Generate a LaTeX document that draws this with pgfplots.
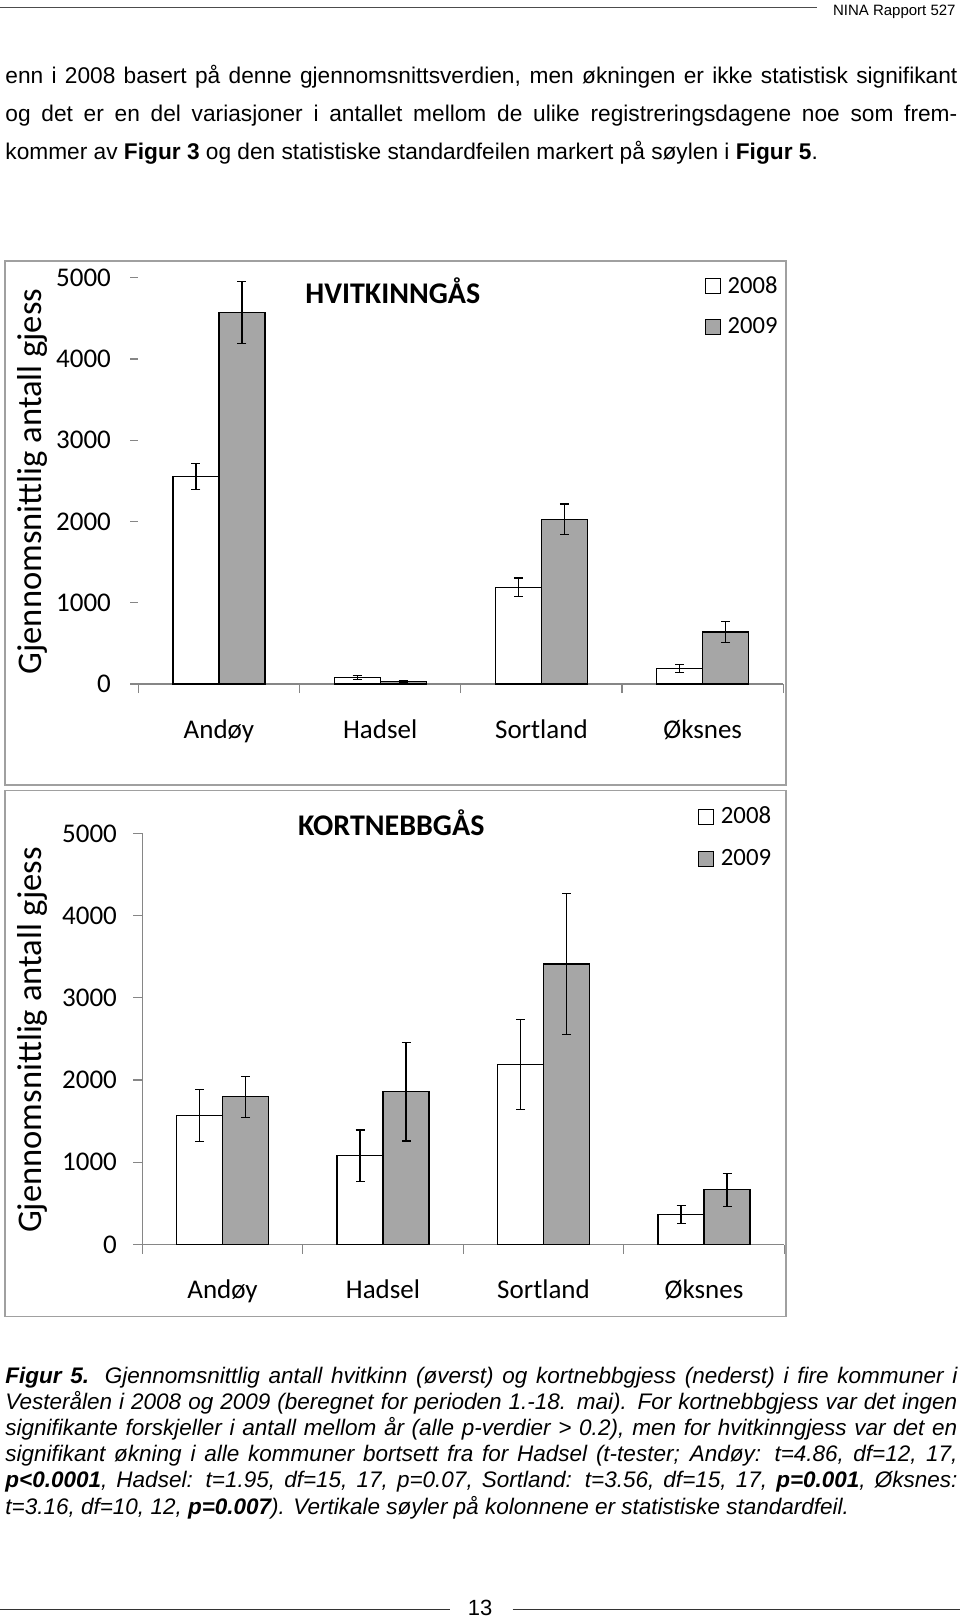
\documentclass[border=0pt]{standalone}
\usepackage{fontspec}
\setmainfont{Liberation Sans}
\newfontfamily\carlito{Carlito}
\usepackage{pgfplots}
\pgfplotsset{compat=1.18}
\definecolor{axgray}{RGB}{134,134,134}
\definecolor{framegray}{RGB}{160,160,160}
\definecolor{bargray}{RGB}{166,166,166}

\pgfplotsset{
  goose/.style={
    scale only axis,
    clip=false,
    xmin=0.5, xmax=4.5, ymin=0, ymax=5000,
    ybar=0pt, bar width=23pt,
    axis x line*=bottom, axis y line*=left,
    axis line style={axgray, line width=0.6pt},
    xtick={1,2,3,4},
    xticklabels={Andøy,Hadsel,Sortland,Øksnes},
    minor xtick={0.5,1.5,2.5,3.5,4.5},
    xtick align=outside, ytick align=outside,
    major x tick style={draw=none},
    minor tick length=4.5pt,
    tick style={axgray, line width=0.6pt},
    ytick={0,1000,2000,3000,4000,5000},
    yticklabels={0,1000,2000,3000,4000,5000},
    tick label style={font=\carlito\fontsize{13.5}{16}\selectfont},
    legend image code/.code={\draw[##1, line width=0.5pt] (0pt,-3.75pt) rectangle (7.5pt,3.75pt);},
    legend cell align=left,
    every axis plot/.append style={draw=black, line width=0.6pt},
  },
  ebar/.style={error bars/.cd, y dir=both, y explicit,
    error bar style={black, line width=0.6pt},
    error mark options={black, rotate=90, mark size=2.25pt, line width=0.6pt}},
}

\begin{document}
\begin{tikzpicture}
\path[use as bounding box] (0pt,0pt) rectangle (480pt,-809pt);

% header
\draw[line width=0.7pt, black!70] (0pt,-3.65pt) -- (408.3pt,-3.65pt);
\node[anchor=base east, inner sep=0pt] at (478pt,-7.5pt) {\fontsize{7.5}{9}\selectfont NINA Rapport 527};

% body text
\begin{scope}[every node/.style={anchor=base west, inner sep=0pt}, font=\fontsize{11.35}{13}\selectfont]
\node at (2.5pt,-41.65pt) {\makebox[476pt][s]{enn i 2008 basert på denne gjennomsnittsverdien, men økningen er ikke statistisk signifikant}};
\node at (2.5pt,-60.85pt) {\makebox[476pt][s]{og det er en del variasjoner i antallet mellom de ulike registreringsdagene noe som frem-}};
\node at (2.5pt,-79.65pt) {kommer av \textbf{Figur 3} og den statistiske standardfeilen markert på søylen i \textbf{Figur 5}.};
\end{scope}

% frames
\draw[framegray, line width=0.6pt] (2.5pt,-130.5pt) rectangle (393pt,-392.5pt);
\draw[framegray, line width=0.6pt] (2.5pt,-395.15pt) rectangle (393pt,-658.25pt);

% top chart
\begin{axis}[goose,
  at={(69.15pt,-342pt)}, anchor=south west,
  width=322.5pt, height=203.15pt,
  major tick length=4pt,
  y axis line style={draw=none},
  xticklabel style={anchor=base, yshift=-23pt},
  yticklabel style={inner sep=0pt, xshift=-9.5pt},
  title={HVITKINNGÅS},
  title style={at={(axis description cs:0.2584,0.937)}, anchor=base west, inner sep=0pt, yshift=-6.3pt,
    font=\carlito\bfseries\fontsize{15}{18}\selectfont},
  ylabel={Gjennomsnittlig antall gjess},
  ylabel style={at={(axis description cs:-0.1498,0.4984)}, anchor=base, inner sep=0pt,
    font=\carlito\fontsize{17.3}{20}\selectfont},
  legend style={at={(axis description cs:0.8786,1.0037)}, anchor=north west,
    draw=none, fill=none, inner sep=0pt, outer sep=0pt,
    font=\carlito\fontsize{12.3}{14}\selectfont, row sep=10.85pt,
    nodes={inner sep=0pt}, /tikz/every odd column/.append style={column sep=3.3pt}},
]
\addplot[fill=white, ebar] coordinates {
  (1,2555) +- (0,160)
  (2,80)   +- (0,25)
  (3,1190) +- (0,115)
  (4,193)  +- (0,47)
};
\addplot[fill=bargray, ebar] coordinates {
  (1,4570) +- (0,380)
  (2,28)   +- (0,10)
  (3,2025) +- (0,190)
  (4,640)  +- (0,130)
};
\legend{2008,2009}
\end{axis}

% bottom chart
\begin{axis}[goose,
  at={(71.15pt,-622.25pt)}, anchor=south west,
  width=321pt, height=205.55pt,
  major tick length=4.5pt,
  xticklabel style={anchor=base, yshift=-22.35pt},
  yticklabel style={inner sep=0pt, xshift=-8pt},
  title={KORTNEBBGÅS},
  title style={at={(axis description cs:0.242,0.9959)}, anchor=base west, inner sep=0pt, yshift=-6.3pt,
    font=\carlito\bfseries\fontsize{15}{18}\selectfont},
  ylabel={Gjennomsnittlig antall gjess},
  ylabel style={at={(axis description cs:-0.1567,0.4974)}, anchor=base, inner sep=0pt,
    font=\carlito\fontsize{17.3}{20}\selectfont},
  legend style={at={(axis description cs:0.866,1.0642)}, anchor=north west,
    draw=none, fill=none, inner sep=0pt, outer sep=0pt,
    font=\carlito\fontsize{12.4}{14}\selectfont, row sep=11.1pt,
    nodes={inner sep=0pt}, /tikz/every odd column/.append style={column sep=3.3pt}},
]
\addplot[fill=white, ebar] coordinates {
  (1,1570) +- (0,315)
  (2,1080) +- (0,312)
  (3,2190) +- (0,550)
  (4,365)  +- (0,112)
};
\addplot[fill=bargray, ebar] coordinates {
  (1,1797) +- (0,250)
  (2,1859) +- (0,600)
  (3,3413) +- (0,855)
  (4,666)  +- (0,200)
};
\legend{2008,2009}
\end{axis}

% caption
\begin{scope}[every node/.style={anchor=base west, inner sep=0pt}, font=\fontsize{11.25}{13}\selectfont\itshape]
\node at (2.5pt,-691.5pt) {\makebox[476pt][s]{\textbf{Figur 5.} Gjennomsnittlig antall hvitkinn (øverst) og kortnebbgjess (nederst) i fire kommuner i}};
\node at (2.5pt,-704.6pt) {\makebox[476pt][s]{Vesterålen i 2008 og 2009 (beregnet for perioden 1.-18. mai). For kortnebbgjess var det ingen}};
\node at (2.5pt,-717.7pt) {\makebox[476pt][s]{signifikante forskjeller i antall mellom år (alle p-verdier > 0.2), men for hvitkinngjess var det en}};
\node at (2.5pt,-730.8pt) {\makebox[476pt][s]{signifikant økning i alle kommuner bortsett fra for Hadsel (t-tester; Andøy: t=4.86, df=12, 17,}};
\node at (2.5pt,-743.9pt) {\makebox[476pt][s]{\textbf{p<0.0001}, Hadsel: t=1.95, df=15, 17, p=0.07, Sortland: t=3.56, df=15, 17, \textbf{p=0.001}, Øksnes:}};
\node at (2.5pt,-757pt) {t=3.16, df=10, 12, \textbf{p=0.007}). Vertikale søyler på kolonnene er statistiske standardfeil.};
\end{scope}

% footer
\draw[line width=0.5pt, black!80] (0pt,-804.65pt) -- (225pt,-804.65pt);
\draw[line width=0.5pt, black!80] (256.3pt,-804.65pt) -- (480pt,-804.65pt);
\node[anchor=base, inner sep=0pt] at (240pt,-807.5pt) {\fontsize{11}{13}\selectfont 13};
\end{tikzpicture}
\end{document}
